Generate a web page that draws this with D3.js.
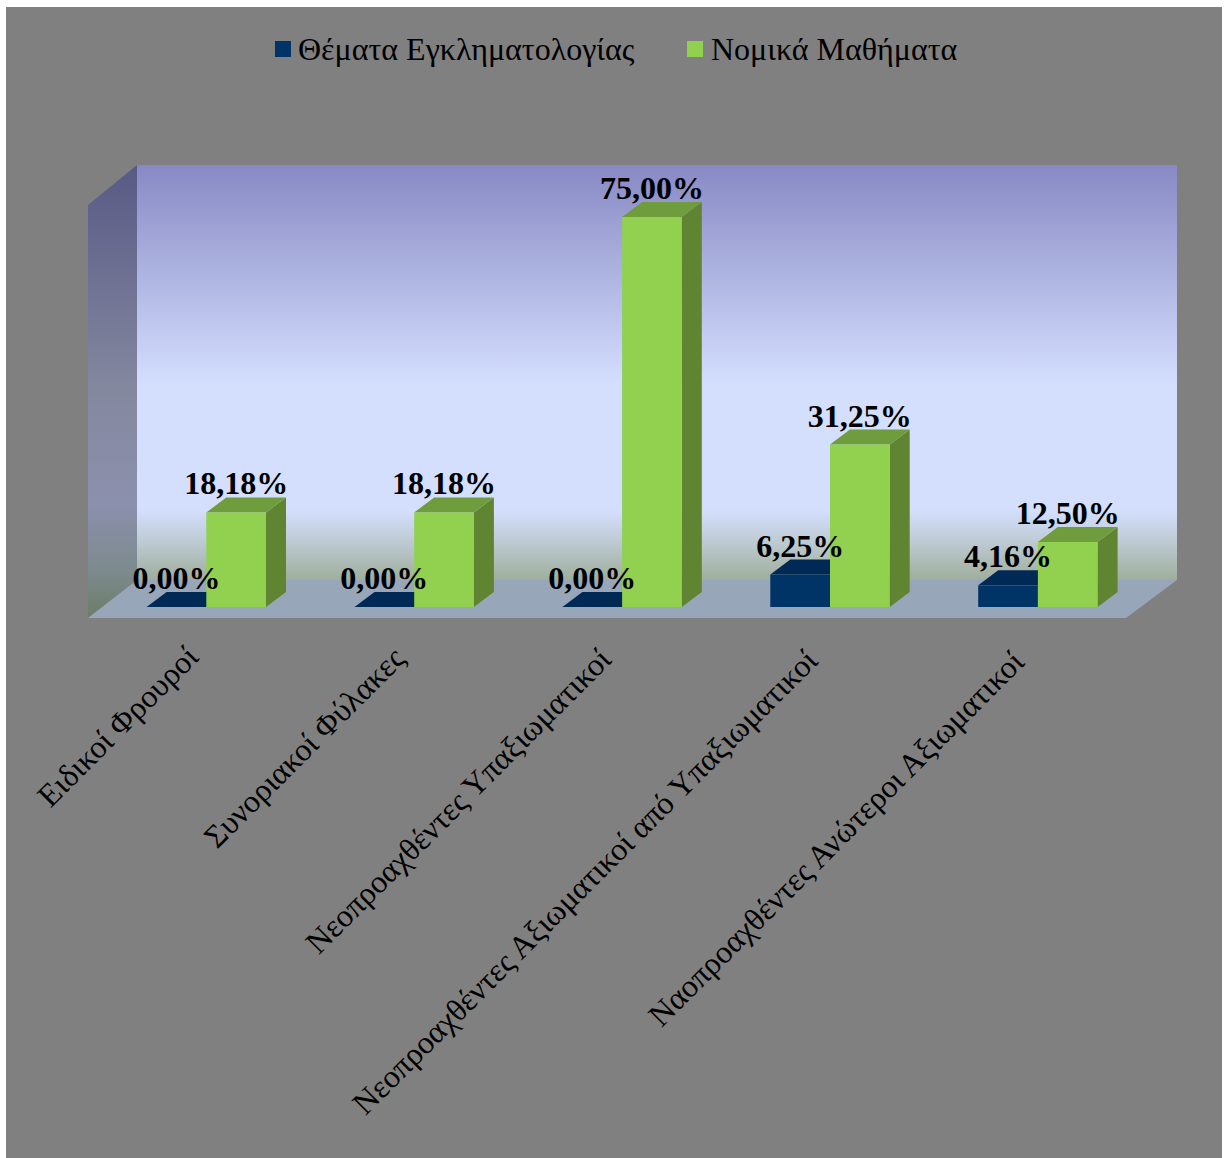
<!DOCTYPE html>
<html>
<head>
<meta charset="utf-8">
<script src="https://cdn.jsdelivr.net/npm/d3@7"></script>
<style>
  html, body { margin: 0; padding: 0; background: #fff; }
  svg { display: block; }
  text { font-family: "Liberation Serif", serif; fill: #000; }
</style>
</head>
<body>
<div id="viz"></div>
<script>
const categories = [
  "Ειδικοί Φρουροί",
  "Συνοριακοί Φύλακες",
  "Νεοπροαχθέντες Υπαξιωματικοί",
  "Νεοπροαχθέντες Αξιωματικοί από Υπαξιωματικοί",
  "Ναοπροαχθέντες Ανώτεροι Αξιωματικοί"
];
const seriesNames = ["Θέματα Εγκληματολογίας", "Νομικά Μαθήματα"];
const crimeValues = [0, 0, 0, 6.25, 4.16];
const lawValues = [18.18, 18.18, 75, 31.25, 12.5];
const seriesValues = [crimeValues, lawValues];

const width = 1224;
const height = 1158;
const depthX = 20;
const depthY = -15;

// three shades per series, front / top / side
const frontColors = ["#003366", "#92d050"];
const topColors = ["#002a55", "#6f9c3c"];
const sideColors = ["#00244a", "#5f8532"];

const svg = d3.select("#viz")
  .append("svg")
  .attr("width", width)
  .attr("height", height);

const defs = svg.append("defs");

const addGradient = (id, x2, y2, stops) => {
  const g = defs.append("linearGradient")
    .attr("id", id)
    .attr("x1", 0).attr("y1", 0)
    .attr("x2", x2).attr("y2", y2);
  stops.forEach(s => g.append("stop").attr("offset", s[0]).attr("stop-color", s[1]));
};

addGradient("backWall", 0, 1, [
  [0, "#8889c4"], [0.53, "#d4dffe"], [0.83, "#d4dffe"], [0.9, "#c0cdd8"], [1, "#9fae9c"]
]);
addGradient("leftWall", 0, 1, [
  [0, "#585a85"], [0.5, "#84889f"], [0.75, "#8b90ad"], [0.9, "#7c8a8c"], [1, "#6b7d68"]
]);

const x = d3.scaleBand()
  .domain(categories)
  .range([90.2, 1129.7]);

const xSeries = d3.scaleBand()
  .domain(seriesNames)
  .range([56.4, 175.8]);

const y = d3.scaleLinear()
  .domain([0, 75])
  .range([607, 217]);

// background panel
svg.append("rect")
  .attr("x", 6).attr("y", 7)
  .attr("width", 1216).attr("height", 1151)
  .attr("fill", "#808080");

// walls and floor
const line = d3.line();
svg.append("path")
  .attr("d", line([[137, 165], [1177, 165], [1177, 580], [137, 580]]) + "Z")
  .attr("fill", "url(#backWall)");
svg.append("path")
  .attr("d", line([[88, 205], [137, 165], [137, 580], [88, 618]]) + "Z")
  .attr("fill", "url(#leftWall)");
svg.append("path")
  .attr("d", line([[88, 618], [137, 580], [1177, 580], [1126, 618]]) + "Z")
  .attr("fill", "#97a6b9");

const barData = [];
seriesNames.forEach((name, s) => {
  categories.forEach((cat, c) => {
    barData.push({ cat: cat, name: name, s: s, value: seriesValues[s][c] });
  });
});

const groups = svg.selectAll("g.bar")
  .data(barData)
  .join("g")
  .attr("class", "bar");

const barW = xSeries.bandwidth();

groups.append("path")
  .attr("fill", d => sideColors[d.s])
  .attr("d", d => {
    const r = x(d.cat) + xSeries(d.name) + barW;
    return line([[r, y(d.value)], [r + depthX, y(d.value) + depthY], [r + depthX, y(0) + depthY], [r, y(0)]]) + "Z";
  });

groups.append("path")
  .attr("fill", d => topColors[d.s])
  .attr("d", d => {
    const l = x(d.cat) + xSeries(d.name);
    const t = y(d.value);
    return line([[l, t], [l + depthX, t + depthY], [l + barW + depthX, t + depthY], [l + barW, t]]) + "Z";
  });

groups.append("rect")
  .attr("x", d => x(d.cat) + xSeries(d.name))
  .attr("y", d => y(d.value))
  .attr("width", barW)
  .attr("height", d => y(0) - y(d.value))
  .attr("fill", d => frontColors[d.s]);

// value labels go on top of every bar
svg.append("g")
  .selectAll("text")
  .data(barData)
  .join("text")
  .attr("x", d => x(d.cat) + xSeries(d.name) + barW / 2)
  .attr("y", d => y(d.value) - 18)
  .attr("text-anchor", "middle")
  .style("font-size", "32px")
  .style("font-weight", "bold")
  .text(d => d.value.toFixed(2).replace(".", ",") + "%");

// category axis
const axis = svg.append("g")
  .attr("transform", `translate(0,${y(0)})`)
  .call(d3.axisBottom(x).tickSize(0));
axis.select(".domain").remove();
axis.selectAll("text")
  .attr("x", 0)
  .attr("y", 0)
  .attr("dy", 0)
  .attr("text-anchor", "end")
  .attr("transform", (d, i) => `translate(${6 - 1.5 * i},${52 + 1.2 * i}) rotate(-45)`)
  .style("font-family", '"Liberation Serif", serif')
  .style("font-size", "32px")
  .style("fill", "#000");

// legend
const legendSwatchX = [275, 687];
const legendTextX = [298, 711];
const legend = svg.selectAll("g.legend")
  .data(seriesNames)
  .join("g")
  .attr("class", "legend");
legend.append("rect")
  .attr("x", (d, i) => legendSwatchX[i])
  .attr("y", 41)
  .attr("width", 16)
  .attr("height", 16)
  .attr("fill", (d, i) => frontColors[i]);
legend.append("text")
  .attr("x", (d, i) => legendTextX[i])
  .attr("y", 60)
  .style("font-size", "32px")
  .text(d => d);
</script>
</body>
</html>
